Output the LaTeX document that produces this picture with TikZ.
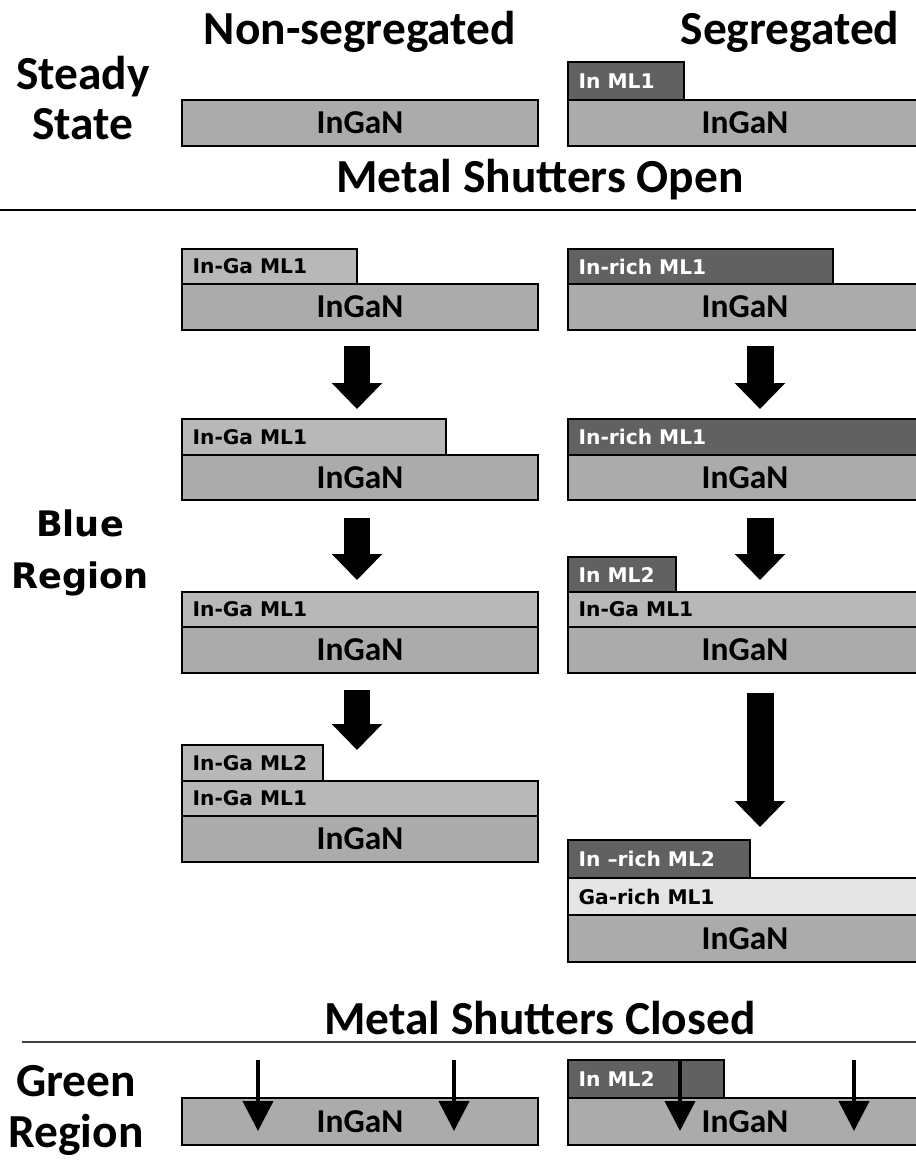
\documentclass[tikz,border=0pt]{standalone}
\usepackage{fontspec}
\setmainfont{Carlito}
\newfontfamily\dejavu{DejaVu Sans}
\usetikzlibrary{arrows.meta,fit}

\tikzset{
  layer/.style={draw=black, line width=1pt, inner sep=0pt},
  ingan/.style={layer, fill=black!33, label={[ingantext]center:InGaN}},
  ingantext/.style={anchor=center, font=\fontsize{19}{19}\selectfont\bfseries},
  ingaml/.style={layer, fill=black!28},
  inrich/.style={layer, fill=black!62},
  garich/.style={layer, fill=black!10},
  mllabel/.style={anchor=west, xshift=3pt, font=\dejavu\fontsize{11.5}{12}\selectfont\bfseries},
  darklabel/.style={mllabel, text=white},
  heading/.style={font=\fontsize{27}{29}\selectfont\bfseries, align=center},
  bigarrow/.style={line width=0.54cm, -{Triangle[width=0.98cm,length=0.52cm]}},
  thinarrow/.style={line width=0.08cm, -{Triangle[width=0.6cm,length=0.6cm]}},
}

\begin{document}
\begin{tikzpicture}[x=0.02cm, y=-0.02cm]
  \useasboundingbox (0,0) rectangle (916,1161);
  \clip (0,0) rectangle (916,1161);

  \node[heading] (nonseg) at (360,32) {Non-segregated};
  \node[heading] (seg) at (790,32) {Segregated};
  \node[heading] (steady) at (83,98) {Steady\\State};
  \node[heading, font=\dejavu\fontsize{20}{30}\selectfont\bfseries] (blue) at (80,553) {Blue\\Region};
  \node[heading] (green) at (76,1110) {Green\\Region};

  \node[heading] (open) at (540,180) {Metal Shutters Open};
  \coordinate (openl) at (0,210);
  \coordinate (openr) at (916,210);
  \draw[line width=1.2pt] (openl) -- (openr);

  \node[heading] (closed) at (540,1018) {Metal Shutters Closed};
  \coordinate (closedl) at (22,1042);
  \coordinate (closedr) at (916,1042);
  \draw[line width=1.2pt, black!75] (closedl) -- (closedr);

  \node[ingan, fit={(182,100) (538,146)}] (ssl) {};
  \node[inrich, fit={(568,62) (684,100)}, label={[darklabel]west:In ML1}] (ssrml) {};
  \node[ingan, fit={(568,100) (922,146)}] (ssr) {};

  \node[ingaml, fit={(182,249) (357,284)}, label={[mllabel]west:In-Ga ML1}] (l1ml) {};
  \node[ingan, fit={(182,284) (538,330)}] (l1) {};
  \node[inrich, fit={(568,249) (833,284)}, label={[darklabel]west:In-rich ML1}] (r1ml) {};
  \node[ingan, fit={(568,284) (922,330)}] (r1) {};

  \node[ingaml, fit={(182,419) (446,455)}, label={[mllabel]west:In-Ga ML1}] (l2ml) {};
  \node[ingan, fit={(182,455) (538,500)}] (l2) {};
  \node[inrich, fit={(568,419) (922,455)}, label={[darklabel]west:In-rich ML1}] (r2ml) {};
  \node[ingan, fit={(568,455) (922,500)}] (r2) {};

  \node[ingaml, fit={(182,592) (538,627)}, label={[mllabel]west:In-Ga ML1}] (l3ml) {};
  \node[ingan, fit={(182,627) (538,673)}] (l3) {};
  \node[inrich, fit={(568,557) (676,592)}, label={[darklabel]west:In ML2}] (r3ml2) {};
  \node[ingaml, fit={(568,592) (922,627)}, label={[mllabel]west:In-Ga ML1}] (r3ml) {};
  \node[ingan, fit={(568,627) (922,673)}] (r3) {};

  \node[ingaml, fit={(182,745) (323,781)}, label={[mllabel]west:In-Ga ML2}] (l4ml2) {};
  \node[ingaml, fit={(182,781) (538,816)}, label={[mllabel]west:In-Ga ML1}] (l4ml) {};
  \node[ingan, fit={(182,816) (538,862)}] (l4) {};
  \node[inrich, fit={(568,840) (750,878)}, label={[darklabel]west:In –rich ML2}] (r4ml2) {};
  \node[garich, fit={(568,878) (922,915)}, label={[mllabel]west:Ga-rich ML1}] (r4ml) {};
  \node[ingan, fit={(568,915) (922,962)}] (r4) {};

  \node[ingan, fit={(182,1098) (538,1145)}] (gl) {};
  \node[inrich, fit={(568,1060) (724,1098)}, label={[darklabel]west:In ML2}] (grml) {};
  \node[ingan, fit={(568,1098) (922,1145)}] (gr) {};

  \coordinate (la1) at (357,346);
  \coordinate (la1e) at (357,409);
  \coordinate (ra1) at (760,346);
  \coordinate (ra1e) at (760,409);
  \coordinate (la2) at (357,518);
  \coordinate (la2e) at (357,580);
  \coordinate (ra2) at (760,518);
  \coordinate (ra2e) at (760,580);
  \coordinate (la3) at (357,690);
  \coordinate (la3e) at (357,750);
  \coordinate (ra3) at (760,693);
  \coordinate (ra3e) at (760,827);
  \draw[bigarrow] (la1) -- (la1e);
  \draw[bigarrow] (ra1) -- (ra1e);
  \draw[bigarrow] (la2) -- (la2e);
  \draw[bigarrow] (ra2) -- (ra2e);
  \draw[bigarrow] (la3) -- (la3e);
  \draw[bigarrow] (ra3) -- (ra3e);

  \coordinate (g1) at (258,1060);
  \coordinate (g1e) at (258,1131);
  \coordinate (g2) at (454,1060);
  \coordinate (g2e) at (454,1131);
  \coordinate (g3) at (680,1060);
  \coordinate (g3e) at (680,1131);
  \coordinate (g4) at (854,1060);
  \coordinate (g4e) at (854,1131);
  \draw[thinarrow] (g1) -- (g1e);
  \draw[thinarrow] (g2) -- (g2e);
  \draw[thinarrow] (g3) -- (g3e);
  \draw[thinarrow] (g4) -- (g4e);
\end{tikzpicture}
\end{document}
